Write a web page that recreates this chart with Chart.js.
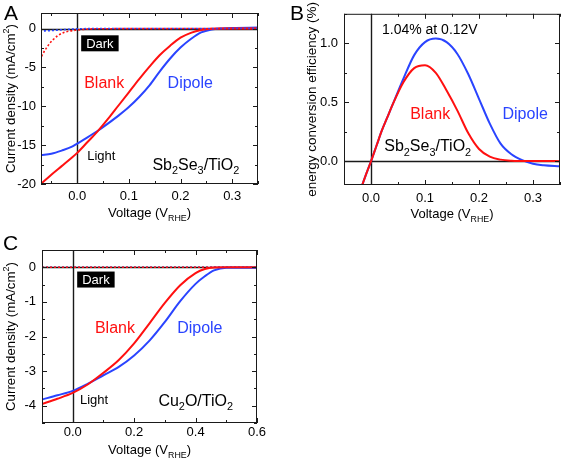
<!DOCTYPE html>
<html>
<head>
<meta charset="utf-8">
<script src="https://cdn.jsdelivr.net/npm/chart.js@4.4.1/dist/chart.umd.min.js"></script>
<style>
  body { margin: 0; background: #fff; }
  #wrap { position: relative; width: 562px; height: 459px; }
  #wrap canvas { position: absolute; }
</style>
</head>
<body>
<div id="wrap">
  <canvas id="chartA" width="280" height="230" style="left:0;top:0"></canvas>
  <canvas id="chartB" width="282" height="230" style="left:280px;top:0"></canvas>
  <canvas id="chartC" width="280" height="229" style="left:0;top:230px"></canvas>
</div>
<script>
// ---- Panel A : Sb2Se3/TiO2, current density vs voltage ----
const voltA = [-0.07, -0.05, -0.03, -0.01, 0, 0.02, 0.04, 0.06, 0.08, 0.10, 0.12, 0.14, 0.16, 0.18, 0.20, 0.22, 0.24, 0.26, 0.28, 0.30, 0.35];
const blankLightA = [-20.0, -18.8, -17.7, -16.6, -16.0, -14.6, -13.2, -11.6, -9.9, -8.2, -6.5, -4.9, -3.4, -2.2, -1.17, -0.55, -0.18, -0.03, 0, 0, 0];
const dipoleLightA = [-16.3, -16.1, -15.7, -15.2, -14.8, -14.0, -13.15, -12.2, -11.2, -10.1, -8.8, -7.3, -5.5, -3.85, -2.45, -1.35, -0.5, -0.12, 0.02, 0.08, 0.12];
const voltDarkA = [-0.072, -0.066, -0.06, -0.053, -0.046, -0.038, -0.027, -0.015, 0, 0.02, 0.05, 0.35];
const blankDarkA = [-4.05, -3.2, -2.55, -1.9, -1.4, -0.95, -0.53, -0.32, -0.2, -0.07, -0.02, 0];
const dipoleDarkA = [-0.32, -0.31, -0.29, -0.27, -0.24, -0.2, -0.15, -0.09, -0.04, -0.01, 0, 0];
const xTicksA = [0.0, 0.1, 0.2, 0.3];
const yTicksA = [0, -5, -10, -15, -20];

// ---- Panel B : Sb2Se3/TiO2, energy conversion efficiency ----
const voltB = [-0.017, -0.01, 0, 0.01, 0.02, 0.03, 0.04, 0.06, 0.08, 0.10, 0.12, 0.14, 0.16, 0.18, 0.20, 0.22, 0.24, 0.26, 0.28, 0.30, 0.32, 0.35];
const blankEffB = [-0.21, -0.12, 0, 0.13, 0.26, 0.37, 0.48, 0.67, 0.79, 0.815, 0.75, 0.6, 0.43, 0.24, 0.105, 0.04, 0.015, 0.006, 0.004, 0.003, 0.003, 0.002];
const dipoleEffB = [-0.21, -0.12, 0, 0.13, 0.26, 0.37, 0.48, 0.70, 0.90, 1.01, 1.04, 1.01, 0.91, 0.74, 0.53, 0.32, 0.15, 0.06, 0.01, -0.02, -0.033, -0.042];
const xTicksB = [0.0, 0.1, 0.2, 0.3];
const yTicksB = [0.0, 0.5, 1.0];

// ---- Panel C : Cu2O/TiO2, current density vs voltage ----
const voltC = [-0.1, -0.05, 0, 0.05, 0.1, 0.15, 0.2, 0.25, 0.3, 0.35, 0.4, 0.43, 0.46, 0.5, 0.55, 0.6];
const blankLightC = [-3.95, -3.8, -3.63, -3.38, -3.05, -2.68, -2.2, -1.62, -1.03, -0.52, -0.17, -0.05, -0.005, 0, 0, 0];
const dipoleLightC = [-3.82, -3.7, -3.57, -3.36, -3.12, -2.88, -2.55, -2.12, -1.58, -0.98, -0.48, -0.26, -0.09, -0.01, -0.01, -0.02];
const voltDarkC = [-0.1, 0, 0.2, 0.4, 0.6];
const blankDarkC = [0, 0, 0, 0, 0];
const dipoleDarkC = [0, 0, 0, 0, 0];
const xTicksC = [0.0, 0.2, 0.4, 0.6];
const yTicksC = [0, -1, -2, -3, -4];

const RED = '#ff1010';
const BLUE = '#2a44ff';
const FONT = '"Liberation Sans", Arial, sans-serif';

function pts(xs, ys) {
  return xs.map((x, i) => ({ x: x, y: ys[i] }));
}

function lightSet(xs, ys, color) {
  return { data: pts(xs, ys), borderColor: color, borderWidth: 2, pointRadius: 0, cubicInterpolationMode: 'monotone', fill: false };
}

function darkSet(xs, ys, color) {
  return { data: pts(xs, ys), borderColor: color, borderWidth: 1.6, borderDash: [2, 2], pointRadius: 0, cubicInterpolationMode: 'monotone', fill: false };
}

// text with sub/superscripts: parts = [[text, ''|'sub'|'sup'], ...]
function drawRich(ctx, parts, x, y, size, align) {
  const widths = parts.map(p => {
    ctx.font = (p[1] ? size * 0.68 : size) + 'px ' + FONT;
    return ctx.measureText(p[0]).width;
  });
  const total = widths.reduce((a, b) => a + b, 0);
  let cx = align === 'center' ? x - total / 2 : x;
  parts.forEach((p, i) => {
    ctx.font = (p[1] ? size * 0.68 : size) + 'px ' + FONT;
    const dy = p[1] === 'sub' ? size * 0.28 : p[1] === 'sup' ? -size * 0.42 : 0;
    ctx.fillText(p[0], cx, y + dy);
    cx += widths[i];
  });
  return total;
}

const framePlugin = {
  id: 'frame',
  beforeDatasetsDraw(chart, args, opts) {
    const { ctx, chartArea: a, scales: { x, y } } = chart;
    ctx.save();
    ctx.beginPath();
    ctx.rect(a.left, a.top, a.right - a.left, a.bottom - a.top);
    ctx.clip();
    ctx.strokeStyle = '#1a1a1a';
    ctx.lineWidth = 1.4;
    const x0 = Math.round(x.getPixelForValue(0)) + 0.5;
    const y0 = Math.round(y.getPixelForValue(0)) + 0.5;
    ctx.beginPath();
    ctx.moveTo(x0, a.top); ctx.lineTo(x0, a.bottom);
    ctx.moveTo(a.left, y0); ctx.lineTo(a.right, y0);
    ctx.stroke();
    ctx.restore();
  },
  afterDraw(chart, args, opts) {
    const { ctx, chartArea: a, scales: { x, y } } = chart;
    ctx.save();
    // box
    ctx.strokeStyle = '#1a1a1a';
    ctx.lineWidth = 1;
    ctx.strokeRect(a.left + 0.5, a.top + 0.5, a.right - a.left - 1, a.bottom - a.top - 1);

    // inward ticks on all four sides
    const tickAt = (scale, v, len) => {
      const p = Math.round(scale.getPixelForValue(v)) + 0.5;
      ctx.beginPath();
      if (scale === x) {
        ctx.moveTo(p, a.bottom); ctx.lineTo(p, a.bottom - len);
        ctx.moveTo(p, a.top); ctx.lineTo(p, a.top + len);
      } else {
        ctx.moveTo(a.left, p); ctx.lineTo(a.left + len, p);
        ctx.moveTo(a.right, p); ctx.lineTo(a.right - len, p);
      }
      ctx.stroke();
    };
    [[x, opts.xMinor], [y, opts.yMinor]].forEach(([s, step]) => {
      const majors = s.ticks.map(t => t.value);
      majors.forEach(v => tickAt(s, v, 5));
      for (let v = Math.ceil(s.min / step) * step; v <= s.max + 1e-9; v += step) {
        if (majors.some(m => Math.abs(m - v) < step / 10)) continue;
        tickAt(s, v, 3);
      }
    });

    ctx.fillStyle = '#000';
    ctx.textBaseline = 'alphabetic';

    // axis titles
    drawRich(ctx, opts.xTitle, (a.left + a.right) / 2, opts.xTitleY, 13, 'center');
    ctx.save();
    ctx.translate(opts.yTitleX, (a.top + a.bottom) / 2);
    ctx.rotate(-Math.PI / 2);
    drawRich(ctx, opts.yTitle, 0, 0, opts.yTitleSize || 13, 'center');
    ctx.restore();

    // panel letter
    ctx.font = '21px ' + FONT;
    ctx.fillText(opts.letter, opts.letterX, 20);

    // annotations, positioned in data coordinates
    (opts.notes || []).forEach(n => {
      const px = x.getPixelForValue(n.x);
      const py = y.getPixelForValue(n.y);
      if (n.box) {
        ctx.font = n.size + 'px ' + FONT;
        const w = ctx.measureText(n.parts[0][0]).width;
        ctx.fillStyle = '#000';
        ctx.fillRect(px - w / 2 - 5, py - 8, w + 10, 16);
        ctx.fillStyle = '#fff';
        ctx.fillText(n.parts[0][0], px - w / 2, py + 4.5);
        return;
      }
      ctx.fillStyle = n.color || '#000';
      drawRich(ctx, n.parts, px, py, n.size, 'left');
    });
    ctx.restore();
  }
};

function makeChart(id, cfg) {
  const tickFont = { family: FONT, size: 13 };
  return new Chart(document.getElementById(id), {
    type: 'line',
    data: { datasets: cfg.datasets },
    options: {
      responsive: false,
      animation: false,
      events: [],
      layout: { padding: cfg.padding },
      plugins: { legend: { display: false }, tooltip: { enabled: false }, frame: cfg.frame },
      scales: {
        x: {
          type: 'linear',
          min: cfg.xMin, max: cfg.xMax,
          grid: { display: false, drawTicks: false },
          border: { display: false },
          afterBuildTicks: s => { s.ticks = cfg.xTicks.map(v => ({ value: v })); },
          afterFit: s => { s.height = cfg.xHeight; },
          ticks: { color: '#000', font: tickFont, padding: cfg.xPad, maxRotation: 0, callback: v => v.toFixed(1) }
        },
        y: {
          type: 'linear',
          min: cfg.yMin, max: cfg.yMax,
          grid: { display: false, drawTicks: false },
          border: { display: false },
          afterBuildTicks: s => { s.ticks = cfg.yTicks.map(v => ({ value: v })); },
          afterFit: s => { s.width = cfg.yWidth; },
          ticks: { color: '#000', font: tickFont, padding: cfg.yPad, callback: cfg.yFmt }
        }
      }
    },
    plugins: [framePlugin]
  });
}

const voltTitle = [['Voltage (V', ''], ['RHE', 'sub'], [')', '']];
const jTitle = [['Current density (mA/cm', ''], ['2', 'sup'], [')', '']];

makeChart('chartA', {
  datasets: [
    darkSet(voltDarkA, blankDarkA, RED),
    darkSet(voltDarkA, dipoleDarkA, BLUE),
    lightSet(voltA, blankLightA, RED),
    lightSet(voltA, dipoleLightA, BLUE)
  ],
  padding: { top: 13, right: 22, left: 0, bottom: 0 },
  xMin: -0.07, xMax: 0.35, yMin: -20, yMax: 2,
  xTicks: xTicksA, yTicks: yTicksA,
  xHeight: 46, yWidth: 41, xPad: 5, yPad: 5,
  yFmt: v => String(v),
  frame: {
    letter: 'A', letterX: 4,
    xMinor: 0.05, yMinor: 2.5,
    xTitle: voltTitle, xTitleY: 217, yTitle: jTitle, yTitleSize: 13.3, yTitleX: 15,
    notes: [
      { x: 0.044, y: -1.9, size: 13, box: true, parts: [['Dark', '']] },
      { x: 0.0136, y: -7.6, size: 16, color: RED, parts: [['Blank', '']] },
      { x: 0.175, y: -7.6, size: 16, color: BLUE, parts: [['Dipole', '']] },
      { x: 0.0194, y: -16.9, size: 13, parts: [['Light', '']] },
      { x: 0.1456, y: -18.2, size: 16, parts: [['Sb', ''], ['2', 'sub'], ['Se', ''], ['3', 'sub'], ['/TiO', ''], ['2', 'sub']] }
    ]
  }
});

makeChart('chartB', {
  datasets: [
    lightSet(voltB, blankEffB, RED),
    lightSet(voltB, dipoleEffB, BLUE)
  ],
  padding: { top: 13, right: 2, left: 0, bottom: 0 },
  xMin: -0.05, xMax: 0.35, yMin: -0.2, yMax: 1.25,
  xTicks: xTicksB, yTicks: yTicksB,
  xHeight: 45, yWidth: 64, xPad: 6, yPad: 6,
  yFmt: v => v.toFixed(1),
  frame: {
    letter: 'B', letterX: 10,
    xMinor: 0.05, yMinor: 0.25,
    xTitle: voltTitle, xTitleY: 218, yTitle: [['energy conversion efficiency (%)', '']], yTitleSize: 13.5, yTitleX: 36,
    notes: [
      { x: 0.0203, y: 1.08, size: 14, parts: [['1.04% at 0.12V', '']] },
      { x: 0.0725, y: 0.363, size: 16, color: RED, parts: [['Blank', '']] },
      { x: 0.2435, y: 0.363, size: 16, color: BLUE, parts: [['Dipole', '']] },
      { x: 0.0245, y: 0.084, size: 16, parts: [['Sb', ''], ['2', 'sub'], ['Se', ''], ['3', 'sub'], ['/TiO', ''], ['2', 'sub']] }
    ]
  }
});

makeChart('chartC', {
  datasets: [
    darkSet(voltDarkC, blankDarkC, RED),
    darkSet(voltDarkC, dipoleDarkC, BLUE),
    lightSet(voltC, blankLightC, RED),
    lightSet(voltC, dipoleLightC, BLUE)
  ],
  padding: { top: 20, right: 23, left: 0, bottom: 0 },
  xMin: -0.1, xMax: 0.6, yMin: -4.5, yMax: 0.5,
  xTicks: xTicksC, yTicks: yTicksC,
  xHeight: 36, yWidth: 42, xPad: 2, yPad: 6,
  yFmt: v => String(v),
  frame: {
    letter: 'C', letterX: 3,
    xMinor: 0.1, yMinor: 0.5,
    xTitle: voltTitle, xTitleY: 224, yTitle: jTitle, yTitleSize: 13.3, yTitleX: 15,
    notes: [
      { x: 0.0755, y: -0.354, size: 13, box: true, parts: [['Dark', '']] },
      { x: 0.0723, y: -1.89, size: 16, color: RED, parts: [['Blank', '']] },
      { x: 0.34, y: -1.89, size: 16, color: BLUE, parts: [['Dipole', '']] },
      { x: 0.0237, y: -3.95, size: 13, parts: [['Light', '']] },
      { x: 0.279, y: -4.0, size: 16, parts: [['Cu', ''], ['2', 'sub'], ['O/TiO', ''], ['2', 'sub']] }
    ]
  }
});
</script>
</body>
</html>
